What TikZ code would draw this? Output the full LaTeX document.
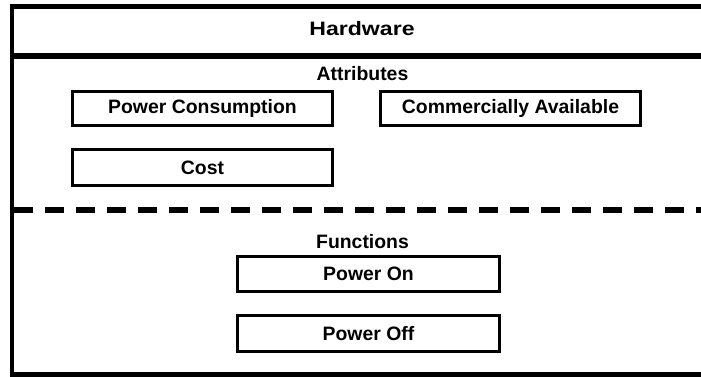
\documentclass[tikz,border=0pt]{standalone}
\usepackage{fontspec}
\setmainfont{Liberation Sans}
\begin{document}
\begin{tikzpicture}[x=1pt,y=-1pt,
  lbl/.style={font=\fontsize{19.4}{22}\selectfont\bfseries, inner sep=0pt, anchor=base},
  itembox/.style={draw=black, line width=3pt, minimum width=260pt, minimum height=34pt, inner sep=0pt,
    font=\fontsize{19.4}{22}\selectfont\bfseries},
  frame/.style={line width=4.5pt},
  sep/.style={line width=6pt, dash pattern=on 19pt off 12pt}]
\useasboundingbox[fill=white] (0,0) rectangle (701,377);
\begin{scope}
\clip (0,0) rectangle (701,377);
\draw[frame] (705,6.3) -- (12,6.3) -- (12,374.5) -- (705,374.5);
\draw[line width=6pt] (12,55.7) -- (705,55.7);
\coordinate (dl) at (14,209.7);
\coordinate (dr) at (705,209.7);
\draw[sep] (dl) -- (dr);
\end{scope}
\node[lbl] (hw) at (362,36) {\scalebox{1.19}[1]{Hardware}};
\node[lbl] (attr) at (362.5,81) {Attributes};
\node[itembox] (pc) at (202.5,108.5) {Power Consumption};
\node[itembox] (ca) at (510.5,108.5) {Commercially Available};
\node[itembox, minimum height=36pt] (cost) at (202.5,167.5) {Cost};
\node[lbl] (fn) at (362.5,248) {Functions};
\node[itembox, minimum width=262pt, minimum height=35pt] (pon) at (368.5,274) {Power On};
\node[itembox, minimum width=262pt, minimum height=36pt] (poff) at (368.5,333.5) {Power Off};
\end{tikzpicture}
\end{document}
